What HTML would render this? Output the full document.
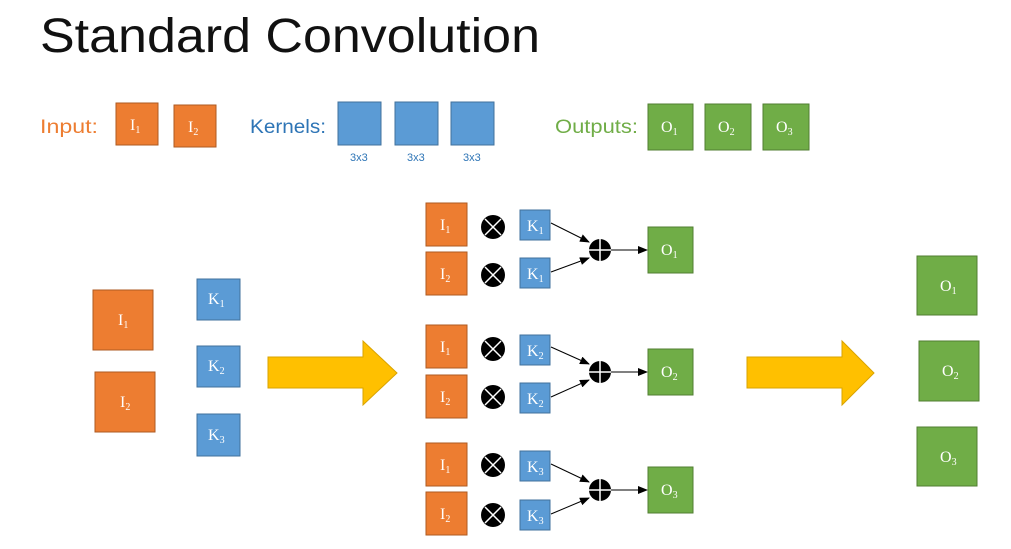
<!DOCTYPE html>
<html><head><meta charset="utf-8"><style>
html,body{margin:0;padding:0;background:#fff}
svg{display:block}
.t{font-family:"Liberation Serif",serif;fill:#fff;font-size:16px}
.s{font-size:10px}
.lab{font-family:"Liberation Sans",sans-serif;font-size:19px}
.or{fill:#ED7D31;stroke:#AE5A21;stroke-width:1}
.bl{fill:#5B9BD5;stroke:#41719C;stroke-width:1}
.gr{fill:#70AD47;stroke:#507E32;stroke-width:1}
.k{font-family:"Liberation Sans",sans-serif;font-size:11px;fill:#2E75B6}
</style></head><body>
<svg width="1011" height="549" viewBox="0 0 1011 549" xmlns="http://www.w3.org/2000/svg">
<defs>
<marker id="ah" markerWidth="10" markerHeight="8" refX="9" refY="4" orient="auto" markerUnits="userSpaceOnUse"><path d="M0,0 L10,4 L0,8 z" fill="#000"/></marker>
<g id="mul"><circle r="12" fill="#000"/><path d="M-8,-8 L8,8 M8,-8 L-8,8" stroke="#fff" stroke-width="1.5"/></g>
<g id="add"><circle r="11" fill="#000"/><path d="M-11,0 L11,0 M0,-11 L0,11" stroke="#fff" stroke-width="1.5"/></g>
</defs>
<text x="40" y="52" font-family="Liberation Sans,sans-serif" font-size="48" fill="#111" textLength="500" lengthAdjust="spacingAndGlyphs">Standard Convolution</text>

<text x="40" y="133" class="lab" fill="#ED7D31" textLength="58" lengthAdjust="spacingAndGlyphs">Input:</text>
<rect x="116" y="103" width="42" height="42" class="or"/><text x="130" y="130" class="t">I<tspan class="s" dy="3">1</tspan></text>
<rect x="174" y="105" width="42" height="42" class="or"/><text x="188" y="132" class="t">I<tspan class="s" dy="3">2</tspan></text>
<text x="250" y="133" class="lab" fill="#2E75B6" textLength="76" lengthAdjust="spacingAndGlyphs">Kernels:</text>
<rect x="338" y="102" width="43" height="43" class="bl"/>
<rect x="395" y="102" width="43" height="43" class="bl"/>
<rect x="451" y="102" width="43" height="43" class="bl"/>
<text x="350" y="161" class="k">3x3</text>
<text x="407" y="161" class="k">3x3</text>
<text x="463" y="161" class="k">3x3</text>
<text x="555" y="133" class="lab" fill="#70AD47" textLength="83" lengthAdjust="spacingAndGlyphs">Outputs:</text>
<rect x="648" y="104" width="45" height="46" class="gr"/><text x="661" y="132" class="t">O<tspan class="s" dy="3">1</tspan></text>
<rect x="705" y="104" width="46" height="46" class="gr"/><text x="718" y="132" class="t">O<tspan class="s" dy="3">2</tspan></text>
<rect x="763" y="104" width="46" height="46" class="gr"/><text x="776" y="132" class="t">O<tspan class="s" dy="3">3</tspan></text>

<rect x="93" y="290" width="60" height="60" class="or"/><text x="118" y="325" class="t">I<tspan class="s" dy="3">1</tspan></text>
<rect x="95" y="372" width="60" height="60" class="or"/><text x="120" y="407" class="t">I<tspan class="s" dy="3">2</tspan></text>
<rect x="197" y="279" width="43" height="41" class="bl"/><text x="208" y="304" class="t">K<tspan class="s" dy="3">1</tspan></text>
<rect x="197" y="346" width="43" height="41" class="bl"/><text x="208" y="371" class="t">K<tspan class="s" dy="3">2</tspan></text>
<rect x="197" y="414" width="43" height="42" class="bl"/><text x="208" y="440" class="t">K<tspan class="s" dy="3">3</tspan></text>

<path d="M268,357 L363,357 L363,341 L397,373 L363,405 L363,388 L268,388 Z" fill="#FFC000" stroke="#D9A300"/>
<path d="M747,357 L842,357 L842,341 L874,373 L842,405 L842,388 L747,388 Z" fill="#FFC000" stroke="#D9A300"/>

<rect x="426" y="203" width="41" height="43" class="or"/><text x="440" y="230" class="t">I<tspan class="s" dy="3">1</tspan></text>
<rect x="426" y="252" width="41" height="43" class="or"/><text x="440" y="279" class="t">I<tspan class="s" dy="3">2</tspan></text>
<use href="#mul" x="493" y="227"/><use href="#mul" x="493" y="275"/>
<rect x="520" y="210" width="30" height="30" class="bl"/><text x="527" y="231" class="t">K<tspan class="s" dy="3">1</tspan></text>
<rect x="520" y="258" width="30" height="30" class="bl"/><text x="527" y="279" class="t">K<tspan class="s" dy="3">1</tspan></text>
<use href="#add" x="600" y="250"/>
<line x1="551" y1="223" x2="589" y2="242" stroke="#000" marker-end="url(#ah)"/>
<line x1="551" y1="272" x2="589" y2="258" stroke="#000" marker-end="url(#ah)"/>
<line x1="611" y1="250" x2="647" y2="250" stroke="#000" marker-end="url(#ah)"/>
<rect x="648" y="227" width="45" height="46" class="gr"/><text x="661" y="255" class="t">O<tspan class="s" dy="3">1</tspan></text>

<rect x="426" y="325" width="41" height="43" class="or"/><text x="440" y="352" class="t">I<tspan class="s" dy="3">1</tspan></text>
<rect x="426" y="375" width="41" height="43" class="or"/><text x="440" y="402" class="t">I<tspan class="s" dy="3">2</tspan></text>
<use href="#mul" x="493" y="349"/><use href="#mul" x="493" y="397"/>
<rect x="520" y="335" width="30" height="30" class="bl"/><text x="527" y="356" class="t">K<tspan class="s" dy="3">2</tspan></text>
<rect x="520" y="383" width="30" height="30" class="bl"/><text x="527" y="404" class="t">K<tspan class="s" dy="3">2</tspan></text>
<use href="#add" x="600" y="372"/>
<line x1="551" y1="347" x2="589" y2="364" stroke="#000" marker-end="url(#ah)"/>
<line x1="551" y1="397" x2="589" y2="380" stroke="#000" marker-end="url(#ah)"/>
<line x1="611" y1="372" x2="647" y2="372" stroke="#000" marker-end="url(#ah)"/>
<rect x="648" y="349" width="45" height="46" class="gr"/><text x="661" y="377" class="t">O<tspan class="s" dy="3">2</tspan></text>

<rect x="426" y="443" width="41" height="43" class="or"/><text x="440" y="470" class="t">I<tspan class="s" dy="3">1</tspan></text>
<rect x="426" y="492" width="41" height="43" class="or"/><text x="440" y="519" class="t">I<tspan class="s" dy="3">2</tspan></text>
<use href="#mul" x="493" y="465"/><use href="#mul" x="493" y="515"/>
<rect x="520" y="451" width="30" height="30" class="bl"/><text x="527" y="472" class="t">K<tspan class="s" dy="3">3</tspan></text>
<rect x="520" y="500" width="30" height="30" class="bl"/><text x="527" y="521" class="t">K<tspan class="s" dy="3">3</tspan></text>
<use href="#add" x="600" y="490"/>
<line x1="551" y1="464" x2="589" y2="482" stroke="#000" marker-end="url(#ah)"/>
<line x1="551" y1="514" x2="589" y2="498" stroke="#000" marker-end="url(#ah)"/>
<line x1="611" y1="490" x2="647" y2="490" stroke="#000" marker-end="url(#ah)"/>
<rect x="648" y="467" width="45" height="46" class="gr"/><text x="661" y="495" class="t">O<tspan class="s" dy="3">3</tspan></text>

<rect x="917" y="256" width="60" height="59" class="gr"/><text x="940" y="291" class="t">O<tspan class="s" dy="3">1</tspan></text>
<rect x="919" y="341" width="60" height="60" class="gr"/><text x="942" y="376" class="t">O<tspan class="s" dy="3">2</tspan></text>
<rect x="917" y="427" width="60" height="59" class="gr"/><text x="940" y="462" class="t">O<tspan class="s" dy="3">3</tspan></text>
</svg>
</body></html>
